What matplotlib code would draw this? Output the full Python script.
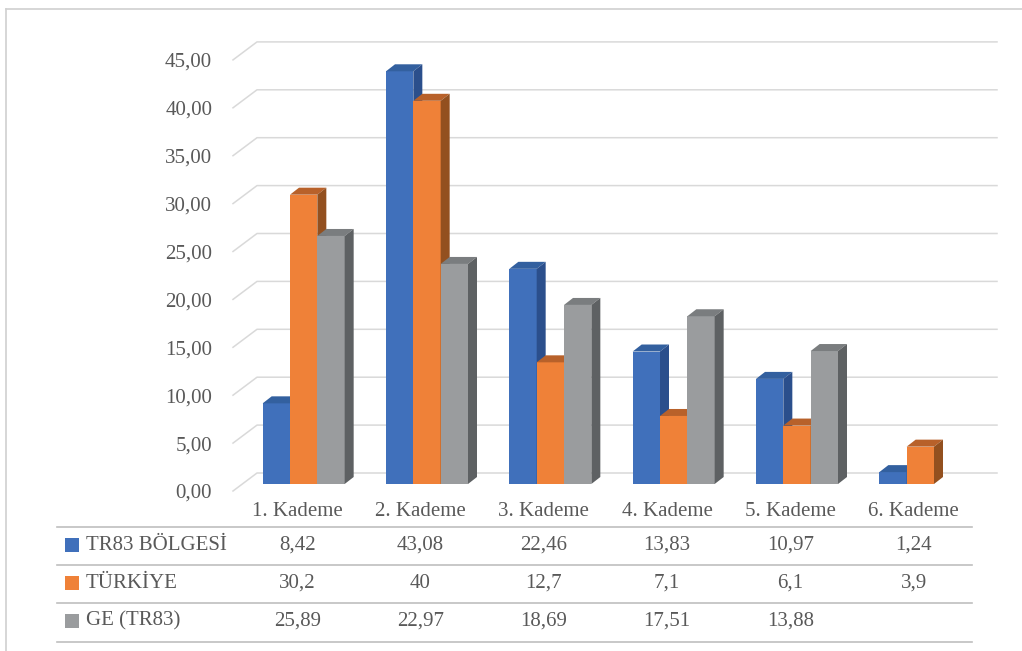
import numpy as np
import matplotlib.pyplot as plt
from matplotlib.patches import Polygon
from matplotlib.lines import Line2D
import matplotlib.transforms as mtransforms

plt.rcParams['font.family'] = ['Liberation Serif', 'DejaVu Serif']

categories = ['1. Kademe', '2. Kademe', '3. Kademe', '4. Kademe', '5. Kademe', '6. Kademe']
series_names = ['TR83 BÖLGESİ', 'TÜRKİYE', 'GE (TR83)']
tr83 = [8.42, 43.08, 22.46, 13.83, 10.97, 1.24]
turkiye = [30.2, 40, 12.7, 7.1, 6.1, 3.9]
ge = [25.89, 22.97, 18.69, 17.51, 13.88, None]
table_text = [
    ['8,42', '43,08', '22,46', '13,83', '10,97', '1,24'],
    ['30,2', '40', '12,7', '7,1', '6,1', '3,9'],
    ['25,89', '22,97', '18,69', '17,51', '13,88', ''],
]
yticks = np.arange(0, 50, 5)

# front / top / side shades
front_cols = ['#4070BB', '#EF8138', '#9A9C9E']
top_cols = ['#33609F', '#B8612A', '#7A7D7F']
side_cols = ['#2B4F8C', '#93501F', '#5E6163']
txt = '#595959'
grid = '#D9D9D9'
fs = 15

W, H = 1022, 651
fig = plt.figure(figsize=(W / 100, H / 100), dpi=100)
px_unit = 9.58
ax = fig.add_axes([233 / W, (H - 491) / H, 740 / W, 45 * px_unit / H])
ax.set_xlim(-0.5, 5.5)
ax.set_ylim(0, 45)
for s in ax.spines.values():
    s.set_visible(False)
ax.set_xticks([])
ax.set_yticks(yticks)
ax.set_yticklabels(['%d,00' % v for v in yticks])
ax.tick_params(axis='y', length=0, pad=15, labelsize=fs, labelcolor=txt)

cat_px = 740 / 6
wall_dx, wall_dy = 24 / cat_px, 18 / px_unit
dep_dx, dep_dy = 9 / cat_px, 7 / px_unit

# back wall gridlines with floor diagonals
for v in yticks:
    ax.plot([-0.5, -0.5 + wall_dx, 5.5 + wall_dx], [v, v + wall_dy, v + wall_dy],
            color=grid, lw=1.1, clip_on=False, zorder=1)

w = 82 / 3 / cat_px
gap = (1 - 3 * w) / 2
allvals = [tr83, turkiye, ge]
for c in range(len(categories)):
    for i, vals in enumerate(allvals):
        v = vals[c]
        if v is None:
            continue
        x0 = c - 0.5 + gap + i * w + dep_dx
        x1 = x0 + w
        y0 = dep_dy
        y1 = v + dep_dy
        z = 2 + c * 3 + i
        ax.add_patch(Polygon([[x0, y0], [x1, y0], [x1, y1], [x0, y1]], closed=True,
                             fc=front_cols[i], ec='none', clip_on=False, zorder=z))
        ax.add_patch(Polygon([[x0, y1], [x1, y1], [x1 + dep_dx, y1 + dep_dy], [x0 + dep_dx, y1 + dep_dy]],
                             closed=True, fc=top_cols[i], ec='none', clip_on=False, zorder=z))
        ax.add_patch(Polygon([[x1, y0], [x1 + dep_dx, y0 + dep_dy], [x1 + dep_dx, y1 + dep_dy], [x1, y1]],
                             closed=True, fc=side_cols[i], ec='none', clip_on=False, zorder=z))

# data table below
trans = mtransforms.blended_transform_factory(ax.transData, fig.transFigure)
def fy(p):
    return (H - p) / H

for c, name in enumerate(categories):
    ax.text(c + 0.02, fy(512), name, transform=trans, ha='center', va='center',
            fontsize=fs, color=txt)

row_y = [545, 583, 621]
for r in range(3):
    for c in range(len(categories)):
        ax.text(c + 0.02, fy(row_y[r]), table_text[r][c], transform=trans,
                ha='center', va='center', fontsize=fs, color=txt)
    fig.patches.append(plt.Rectangle((65 / W, fy(row_y[r] + 7)), 14 / W, 14 / H,
                                     transform=fig.transFigure, fc=front_cols[r], ec='none'))
    fig.text(86 / W, fy(row_y[r]), series_names[r], ha='left', va='center',
             fontsize=fs, color=txt)

for p in [527, 565, 603, 642]:
    fig.add_artist(Line2D([57 / W, 972 / W], [fy(p), fy(p)], color='#BFBFBF', lw=1.2))

# outer frame (top and left edges visible)
fig.add_artist(Line2D([6 / W, 1.0], [fy(8.5), fy(8.5)], color='#D0D0D0', lw=1.2))
fig.add_artist(Line2D([6 / W, 6 / W], [fy(8.5), 0], color='#D0D0D0', lw=1.2))

fig.savefig('out.png', dpi=100)
